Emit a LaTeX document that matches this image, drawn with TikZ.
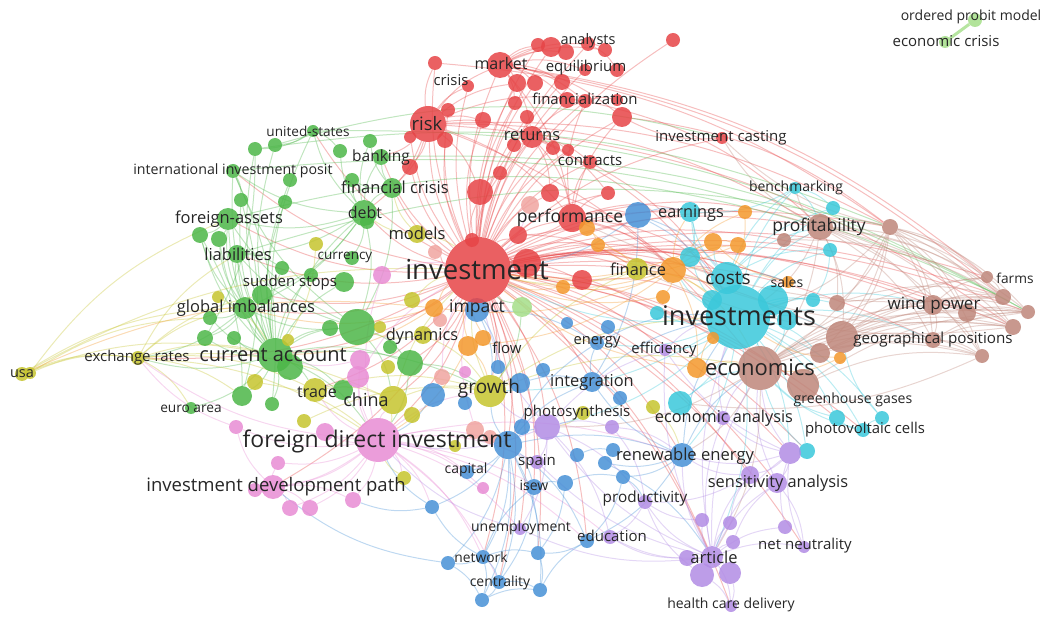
\documentclass[tikz,border=0pt]{standalone}
\usepackage{fontspec}
\setmainfont{Open Sans}
\definecolor{vred}{RGB}{230,68,70}
\definecolor{vgreen}{RGB}{76,182,72}
\definecolor{vblue}{RGB}{70,144,214}
\definecolor{vyellow}{RGB}{198,196,46}
\definecolor{vpurple}{RGB}{178,140,228}
\definecolor{vcyan}{RGB}{58,200,218}
\definecolor{vorange}{RGB}{243,152,44}
\definecolor{vbrown}{RGB}{190,134,122}
\definecolor{vpink}{RGB}{232,140,212}
\definecolor{vlgreen}{RGB}{164,222,136}
\definecolor{vsalmon}{RGB}{240,164,160}
\pgfdeclarelayer{edges}
\pgfdeclarelayer{labels}
\pgfsetlayers{edges,main,labels}

\begin{document}
\begin{tikzpicture}[x=1pt,y=-1pt,
  kw/.style={circle,inner sep=0pt,fill=#1,fill opacity=.85},
  eg/.style={draw=#1,opacity=.35,line width=1pt},
  lbl/.style={inner sep=0pt,text=black!85}]
  \useasboundingbox (0,0) rectangle (1043,617);

  % red
  \foreach \n/\x/\y/\r in {risk/428/124/18,market/500/65/13,r1/435/63/7,r2/468/86/6,an/588/44/7,
    r3/538/45/7,r4/551/47/10,r5/566/52/8,r6/605/50/7,eq/585/70/6,r7/617/70/7,r8/517/83/9,r9/535/83/8,
    r10/562/82/8,fin/585/101/7,r11/567/100/8,r12/617/100/6,r13/622/117/10,r14/515/103/7,r15/527/117/7,
    r16/483/120/8,r17/448/110/7,r18/445/140/8,r19/410/137/6,r20/410/167/8,ret/532/137/11,r21/514/145/7,
    r22/553/148/7,r23/568/150/6,con/590/162/7,r24/500/173/7,r25/480/192/13,r26/550/193/9,r27/608/193/7,
    perf/572/218/14,r28/518/235/9,r29/527/263/14,r30/582/280/10,r31/472/240/7,cast/722/138/6,r32/673/40/7}
    \node[kw=vred,minimum size=\r*2pt] (\n) at (\x,\y) {};
  % green
  \foreach \n/\x/\y/\r in {us/313/131/6,g1/255/149/7,g2/275/145/7,g3/340/151/7,g4/370/141/7,bank/381/157/8,
    iip/233/171/7,g5/290/180/7,g6/352/180/7,fc/392/188/10,g7/241/200/7,g8/285/202/7,fa/228/219/11,
    debt/364/213/13,g9/200/235/8,g10/219/239/8,liab/237/254/9,cur/352/258/7,g11/282/268/7,g12/311/275/7,
    g13/344/282/10,ss/262/295/10,gi/245/308/11,g14/210/318/7,g15/205/338/8,g16/234/338/7,g17/330/328/8,
    g18/357/327/18,ca/275/355/17,g19/290/367/13,g20/410/363/13,g21/390/347/7,g22/343/390/10,g23/242/396/10,
    g24/272/404/7,euro/191/408/6,g25/367/222/7}
    \node[kw=vgreen,minimum size=\r*2pt] (\n) at (\x,\y) {};
  % yellow
  \foreach \n/\x/\y/\r in {usa/22/374/7,y0/30/373/6,xr/138/358/7,models/417/234/9,y1/316/244/7,y2/218/297/6,
    y3/412/300/8,dyn/423/335/9,y4/380/327/6,y5/255/382/8,trade/315/390/12,y6/304/421/7,china/393/400/14,
    y7/412/415/8,y8/404/478/7,grow/490/391/16,y9/653/407/7,finy/637/269/11,y10/455/446/6,y11/388/367/7,
    y12/583/413/7,y13/288/340/6}
    \node[kw=vyellow,minimum size=\r*2pt] (\n) at (\x,\y) {};
  % pink
  \foreach \n/\x/\y/\r in {fdi/378/440/22,idp/273/487/12,p1/290/508/8,p2/310/508/8,p3/353/500/8,p4/236/427/7,
    p5/325/432/9,p6/278/463/7,p7/255/490/7,p8/483/488/6,p9/360/360/10,p10/358/377/11,p11/382/275/9,p12/465/372/6}
    \node[kw=vpink,minimum size=\r*2pt] (\n) at (\x,\y) {};
  \foreach \n/\x/\y/\r in {s1/442/377/8,s2/475/430/9,s3/490/437/7,s4/435/252/7,s5/440/320/7,s6/530/205/9}
    \node[kw=vsalmon,minimum size=\r*2pt] (\n) at (\x,\y) {};
  % blue
  \foreach \n/\x/\y/\r in {b0/638/215/13,imp/477/310/12,flow/498/367/7,en/597/343/7,b1/567/323/6,b2/608/327/7,
    b3/543/370/7,integ/592/382/10,b4/520/383/10,b5/433/395/12,b6/465/403/7,b7/508/445/14,b9/522/427/8,
    b10/577/455/7,b11/605/463/7,b12/613/450/7,b13/623/477/7,b14/620/398/7,isew/534/487/8,b15/565/483/8,
    ren/682/455/12,b17/432/507/7,net/483/557/7,b18/538/553/7,b19/540/590/7,cent/499/582/7,b20/482/600/7,
    b23/448/563/7,educ/587/541/7,cap/467/472/7}
    \node[kw=vblue,minimum size=\r*2pt] (\n) at (\x,\y) {};
  % cyan
  \foreach \n/\x/\y/\r in {invs/738/317/32,c1/773/300/15,c2/712/300/10,costs/727/278/16,earn/690/212/10,
    bench/795/188/6,c3/833/208/7,c4/830/250/7,c5/690/257/10,c6/813/300/7,c7/657/313/7,c8/680/403/12,
    c9/837/418/8,c10/882/418/7,c11/807/451/8,pv/863/430/7,c12/787/320/10}
    \node[kw=vcyan,minimum size=\r*2pt] (\n) at (\x,\y) {};
  % brown
  \foreach \n/\x/\y/\r in {prof/820/227/13,w1/784/240/7,w2/890/227/8,farms/987/277/6,w3/1003/297/8,
    w4/1028/312/7,w5/1013/327/8,w6/982/356/7,wp/933/305/10,w7/967/313/9,geo/933/340/8,w8/842/337/16,
    w9/820/353/10,w10/837/303/8,econ/760/368/22,w11/803/385/16}
    \node[kw=vbrown,minimum size=\r*2pt] (\n) at (\x,\y) {};
  % orange
  \foreach \n/\x/\y/\r in {o1/673/270/13,o2/713/242/9,o3/738/245/8,o4/745/212/7,sales/788/282/6,
    o5/663/297/7,o6/713/338/6,o7/840/358/6,o8/697/368/10,o9/598/245/7,o10/563/287/7,o11/587/228/8,
    o12/434/308/9,o13/468/346/10,o14/483/338/8}
    \node[kw=vorange,minimum size=\r*2pt] (\n) at (\x,\y) {};
  % purple
  \foreach \n/\x/\y/\r in {photo/547/427/13,v1/612/427/7,eff/665/350/6,v2/723/418/7,v3/750/475/9,
    v4/777/483/10,v5/790/453/11,v6/645/502/7,art/712/557/11,v7/702/575/12,v8/730/573/11,v9/733/542/7,
    v10/702/520/7,v11/730/523/7,v12/687/558/8,v13/785/527/7,nn/804/547/6,hcd/731/606/6,v14/610/537/7,
    unemp/520/529/6,spain/537/462/7}
    \node[kw=vpurple,minimum size=\r*2pt] (\n) at (\x,\y) {};
  \foreach \n/\x/\y/\r in {opm/975/20/7,ecr/945/42/6,lg1/522/307/10}
    \node[kw=vlgreen,minimum size=\r*2pt] (\n) at (\x,\y) {};
  % the big one last
  \node[kw=vred,minimum size=66pt] (inv) at (478,270) {};

  \begin{pgfonlayer}{edges}
    \foreach \a/\b in {inv/risk,inv/market,inv/ret,inv/perf,inv/r25,inv/r26,inv/con,inv/fin,inv/an,inv/eq,
      inv/r8,inv/r13,inv/r20,inv/r29,inv/r30,inv/r28,inv/r31,inv/r24,inv/r16,inv/r18,inv/cast,inv/r32,
      inv/o1,inv/econ,inv/prof,inv/fdi,inv/grow,inv/ca,inv/debt,inv/bank,inv/china,inv/ren,inv/photo,
      inv/art,inv/wp,inv/w2,inv/costs,inv/b7,inv/integ,inv/sales,inv/earn,inv/v5,inv/idp,inv/geo,inv/fc,
      inv/liab,inv/gi,inv/trade,inv/farms,inv/w4,inv/hcd,inv/nn,inv/cent,inv/eff,inv/c11,inv/pv,inv/xr,
      inv/r1,inv/r2,inv/r3,inv/r4,inv/r9,inv/r10,inv/r11,inv/r14,inv/r15,inv/r17,inv/r19,inv/r21,
      inv/r22,inv/r23,inv/r27,inv/s4,inv/o9,inv/o11,inv/finy,inv/c5,inv/c7,inv/w8,inv/w3,inv/w5,
      inv/w7,inv/v3,inv/v4,inv/educ,inv/b18,inv/unemp,inv/g18,inv/g20,inv/ss,inv/us,inv/iip,inv/fa,
      inv/c4,inv/o4,inv/w11,inv/c9,inv/sales,inv/isew,inv/net,
      risk/market,risk/r1,risk/r2,risk/ret,risk/r17,risk/r18,risk/r19,risk/r20,risk/fc,risk/bank,
      risk/perf,risk/r25,risk/r8,risk/r16,risk/fin,risk/debt,risk/w2,risk/w5,risk/prof,risk/econ,
      market/an,market/eq,market/r3,market/r4,market/r5,market/r6,market/r8,market/r9,market/r10,
      market/fin,market/ret,market/r13,market/r11,market/r14,market/w3,market/farms,market/perf,
      ret/con,ret/r21,ret/r22,ret/r23,ret/fin,ret/perf,ret/r26,ret/r27,ret/r15,ret/invs,
      perf/earn,perf/b0,perf/o11,perf/r28,perf/r27,perf/con,perf/fin,perf/prof,perf/r13,perf/invs,
      perf/costs,perf/o1,cast/r13,an/r6,an/r7,r1/w2,fin/r12,fin/r11,r25/r24,r29/o1,r30/invs,r13/w2,
      fin/prof,con/invs,r26/o1,r28/finy}
      \draw[eg=vred] (\a) to[bend left=15] (\b);
    \foreach \a/\b in {ca/gi,ca/ss,ca/liab,ca/fa,ca/debt,ca/iip,ca/us,ca/g1,ca/g2,ca/g5,ca/g7,ca/g8,
      ca/g9,ca/g10,ca/g11,ca/g12,ca/g13,ca/g14,ca/g15,ca/g16,ca/g17,ca/g18,ca/g19,ca/g20,ca/g22,ca/g23,
      ca/g24,ca/euro,ca/xr,ca/trade,ca/fdi,ca/grow,
      debt/fa,debt/liab,debt/fc,debt/bank,debt/g3,debt/g4,debt/g6,debt/cur,debt/us,debt/iip,debt/gi,
      debt/ss,debt/g18,debt/g25,fc/bank,fc/g4,fc/g6,fc/g18,g18/g20,g18/gi,g18/fa,g18/liab,g18/iip,
      gi/fa,gi/liab,gi/g9,gi/g10,gi/g14,gi/g15,gi/xr,us/g1,us/g2,us/g3,iip/g7,fa/g9,fa/g10,liab/g11,
      g1/w2,iip/w3,us/w4,fa/prof,bank/w4,g2/cast,liab/w2,g1/g15,g7/g23,iip/g24,g9/g23,
      g20/fdi,g20/grow,g18/china,lg1/inv,lg1/grow}
      \draw[eg=vgreen] (\a) to[bend left=15] (\b);
    \draw[eg=vlgreen,opacity=.8,line width=3pt] (opm) -- (ecr);
    \foreach \a/\b in {usa/xr,usa/ca,usa/inv,usa/gi,y0/xr,y0/g14,y0/fa,xr/ca,xr/gi,xr/euro,xr/trade,
      xr/fdi,xr/china,xr/g23,xr/ss,xr/liab,china/grow,china/fdi,trade/grow,grow/inv,grow/finy,models/inv,
      models/debt,y3/inv,finy/inv,finy/invs,trade/china,y8/fdi,y9/ren,grow/invs,models/fc,dyn/g18,
      dyn/grow,y12/photo,y1/ca,y2/ca,y5/fdi,y6/grow,grow/econ,china/inv}
      \draw[eg=vyellow] (\a) to[bend left=15] (\b);
    \foreach \a/\b in {fdi/idp,fdi/p1,fdi/p2,fdi/p3,fdi/p4,fdi/p5,fdi/p6,fdi/p9,fdi/p10,fdi/p11,
      fdi/china,fdi/grow,fdi/p8,fdi/spain,fdi/b7,fdi/trade,fdi/unemp,fdi/v14,fdi/p7,idp/p1,idp/p2,
      idp/p4,idp/p6,idp/p7,p10/inv,p9/ca,fdi/y8,fdi/cap,fdi/net,s1/inv,s2/inv,s6/inv,fdi/b17,fdi/cent,
      fdi/educ,fdi/ren,idp/p3,p4/xr,fdi/xr,p11/inv}
      \draw[eg=vpink] (\a) to[bend left=15] (\b);
    \foreach \a/\b in {b7/cap,b7/isew,b7/net,b7/cent,b7/b17,b7/b18,b7/b19,b7/b20,b7/ren,b7/integ,b7/en,
      b7/photo,b7/grow,b7/b23,ren/integ,ren/b13,ren/b11,ren/educ,ren/econ,ren/invs,net/cent,net/b17,
      net/b18,net/b20,net/isew,net/b23,cent/b20,cent/b19,b23/b20,b0/earn,b0/inv,b0/integ,imp/inv,
      imp/grow,imp/flow,imp/en,integ/b14,integ/en,isew/b15,educ/b18,b18/b19,b15/b13,b10/b12,b5/fdi,
      b4/integ,b17/fdi,b7/educ,isew/cent,b15/b18,b13/educ,b19/educ,b23/idp,b17/p3,b0/costs,b0/invs,
      integ/invs,b11/art,b13/v6,b20/b19,en/invs}
      \draw[eg=vblue] (\a) to[bend left=15] (\b);
    \foreach \a/\b in {invs/costs,invs/earn,invs/bench,invs/c3,invs/c4,invs/c5,invs/c6,invs/c7,invs/c8,
      invs/c9,invs/c10,invs/c11,invs/pv,invs/econ,invs/prof,invs/inv,invs/ren,invs/w8,invs/o1,invs/v5,
      invs/eff,invs/en,invs/c12,invs/photo,invs/art,invs/grow,costs/bench,costs/earn,costs/c3,
      costs/prof,costs/sales,costs/o2,costs/c4,pv/c9,pv/c10,pv/econ,c8/econ,bench/prof,c11/v5,earn/c5,
      bench/c3,bench/earn,c4/c6,c9/econ,c10/w8,c11/econ,invs/w9,invs/w10,invs/geo,invs/wp,c12/econ}
      \draw[eg=vcyan] (\a) to[bend left=15] (\b);
    \foreach \a/\b in {prof/w2,prof/farms,prof/w3,prof/w4,prof/w5,prof/wp,prof/w7,prof/geo,prof/w8,
      prof/w10,prof/w1,prof/bench,prof/econ,prof/invs,prof/cast,prof/w6,w2/farms,w2/w3,w2/w4,w2/w5,
      w2/w6,w2/wp,w2/w7,w2/geo,w2/w8,w2/econ,w2/cast,w2/w10,w2/w9,w2/invs,econ/wp,econ/geo,econ/w7,
      econ/w3,econ/w4,econ/w5,econ/w6,econ/w8,econ/w11,econ/photo,econ/ren,econ/art,econ/farms,wp/w3,
      wp/w4,wp/w5,wp/w6,wp/w7,wp/geo,wp/farms,w8/w3,w8/w4,w8/w5,w8/w6,w8/farms,w8/wp,w9/w4,w9/w5,
      w10/w3,geo/w4,geo/w6,geo/w5,w7/w4,farms/w3,w11/w4,w11/w6,w9/w6,w1/w3,w10/w5,w4/o1,w3/perf,
      w5/finy,w6/c8}
      \draw[eg=vbrown] (\a) to[bend left=15] (\b);
    \foreach \a/\b in {o1/invs,o1/inv,o1/o2,o1/o3,o1/o4,o1/o9,o1/o10,o1/o11,o1/finy,o1/earn,o1/costs,
      o1/econ,o1/o12,o1/o13,o1/o5,o1/o8,o13/inv,o13/grow,o12/inv,o12/ca,o8/econ,o8/invs,o7/econ,
      sales/o2,o2/o3,o4/costs,o14/inv,o13/o14,o6/invs,o10/inv,usa/o12,o9/finy,o11/o9,o2/inv,o3/inv,
      o8/inv,o5/inv,o7/invs,o13/fdi,o12/gi}
      \draw[eg=vorange] (\a) to[bend left=15] (\b);
    \foreach \a/\b in {art/v7,art/v8,art/v9,art/v10,art/v11,art/v12,art/v13,art/nn,art/hcd,art/v3,
      art/v4,art/v5,art/v6,art/v14,art/econ,art/ren,art/photo,art/invs,art/eff,art/v2,v5/v3,v5/v4,
      v5/v2,v5/c11,v5/econ,v5/eff,photo/v1,photo/spain,photo/v6,photo/unemp,photo/v14,photo/inv,
      photo/eff,photo/grow,photo/fdi,v7/hcd,v8/hcd,v7/v6,v3/v6,v4/nn,v13/v5,v6/v14,unemp/fdi,v2/econ,
      eff/invs,v1/ren,art/unemp,art/spain,v5/ren,v3/ren,v4/econ,v10/v6,v11/v3,v9/v4,v12/v14,v2/invs,
      v1/v6,nn/v5}
      \draw[eg=vpurple] (\a) to[bend left=15] (\b);
  \end{pgfonlayer}

  \begin{pgfonlayer}{labels}
    \foreach \n/\t/\x/\y/\s in {inv/investment/477/270/27.5,invs/investments/739/316/27,
      fdi/foreign direct investment/377/441/23,ca/current account/273/355/20,econ/economics/760/368/22,
      risk/risk/427/124/18.5,costs/costs/728/278/19,grow/growth/489/389/19,prof/profitability/819/227/17.5,
      debt/debt/365/213/16,china/china/366/400/18,idp/investment development path/276/487/18.5,
      wp/wind power/934/305/17,fa/foreign-assets/229/219/16.5,liab/liabilities/238/254/16.5,
      gi/global imbalances/246/308/16.5,perf/performance/570/218/17.5,art/article/714/557/16.5,
      imp/impact/477/308/17.5,ss/sudden stops/290/283/15,fc/financial crisis/395/187/16.5,
      market/market/501/64/16,ret/returns/532/135/16.5,models/models/417/233/16.5,
      dyn/dynamics/422/336/16.3,trade/trade/317/391/16,integ/integration/592/382/16.4,
      ren/renewable energy/685/456/16.6,photo/photosynthesis/577/413/15,
      ea/economic analysis/724/418/16.3,sa/sensitivity analysis/778/483/16.4,
      geo/geographical positions/933/340/15.2,earn/earnings/691/213/16.3,finy/finance/638/269/16.4,
      an/analysts/588/41/14.5,eq/equilibrium/586/68/15,crisis/crisis/451/80/14.8,
      fin/financialization/585/99/15,us/united-states/308/131/13.6,bank/banking/381/157/15.5,
      con/contracts/590/161/15,cast/investment casting/721/138/15,
      iip/international investment posit/233/171/14.2,bench/benchmarking/796/188/14,
      cur/currency/345/257/13.5,sales/sales/787/282/14,farms/farms/1015/278/13.7,
      xr/exchange rates/137/358/15,usa/usa/22/374/14.5,euro/euro area/191/409/13.7,
      cap/capital/466/470/14,flow/flow/507/348/15,en/energy/597/342/14.7,eff/efficiency/664/350/14.9,
      gg/greenhouse gases/853/400/14.1,pv/photovoltaic cells/865/430/14.9,spain/spain/537/462/15,
      isew/isew/534/485/14,prod/productivity/645/499/15.3,unemp/unemployment/521/528/14,
      educ/education/612/536/15,nn/net neutrality/805/546/15,net/network/481/557/13.8,
      cent/centrality/500/583/14,hcd/health care delivery/731/605/14,
      opm/ordered probit model/971/17/14,ecr/economic crisis/946/41/15}
      \node[lbl,font=\fontsize{\s}{\s}\selectfont] (t-\n) at (\x,\y) {\t};
  \end{pgfonlayer}
\end{tikzpicture}
\end{document}
